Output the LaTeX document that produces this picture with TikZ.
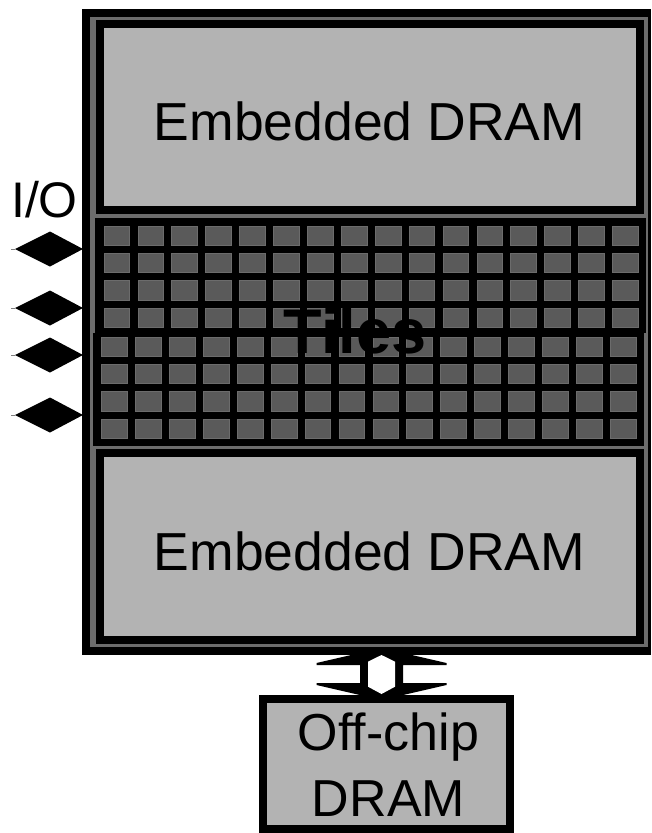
\documentclass[tikz,border=0pt]{standalone}
\usepackage{fontspec}
\setmainfont{Liberation Sans}
\usetikzlibrary{calc}
\definecolor{lgray}{RGB}{179,179,179}
\definecolor{band}{RGB}{108,108,108}
\definecolor{tilefill}{RGB}{90,90,90}
\definecolor{tileedge}{RGB}{108,108,108}
\begin{document}
\begin{tikzpicture}[x=1pt,y=-1pt,
  blk/.style={fill=black,draw=none,inner sep=0pt,outer sep=0pt},
  bandbox/.style={fill=band,draw=none,inner sep=0pt,outer sep=0pt},
  membox/.style={fill=lgray,draw=black,line width=8pt,inner sep=0pt,outer sep=0pt},
  tilesq/.style={fill=tilefill,draw=tileedge,line width=0.8pt},
  lbl/.style={font=\fontsize{52}{62}\selectfont,anchor=base,inner sep=0pt},
  iod/.style={fill=black,draw=none}]
\useasboundingbox (0,0) rectangle (651,833);

% bidirectional off-chip link (drawn first, partly hidden)
\coordinate (arrc) at (381.5,674);
\fill[black,shift={(arrc)}] (0,-26) -- (65,-11) -- (65,-9) -- (21.5,-9) -- (21.5,9) -- (65,9) -- (65,11)
  -- (0,26) -- (-65,11) -- (-65,9) -- (-21.5,9) -- (-21.5,-9) -- (-65,-9) -- (-65,-11) -- cycle;
\fill[white,shift={(arrc)}] (-13.5,-12.3) -- (0,-19) -- (13.5,-12.3) -- (13.5,12.7) -- (0,20) -- (-13.5,12.7) -- cycle;

% chip
\node[blk,minimum width=569pt,minimum height=646pt] (chip) at (366.5,332) {};
\node[bandbox,minimum width=558pt,minimum height=630pt] (band) at (369,332) {};
\node[membox,minimum width=540pt,minimum height=186pt] (dramtop) at (370,117) {};
\node[membox,minimum width=540pt,minimum height=187pt] (drambot) at (370,546.5) {};
\node[blk,minimum width=551pt,minimum height=115pt] (tilesup) at (370.5,275.5) {};
\node[blk,minimum width=551pt,minimum height=113pt] (tileslo) at (368.5,389.5) {};

\foreach \i in {0,...,15} {
  \foreach \j in {0,...,3} {
    \fill[tilesq] ({104+33.9*\i},{226+27.4*\j}) rectangle ++(25.7,19.3);
    \fill[tilesq] ({101.7+33.9*\i},{337+27.4*\j}) rectangle ++(25.7,19.3);
  }
}
\foreach \i in {0,...,15} {
  \foreach \j in {0,...,3} {
    \draw[tilesq,fill=none] ({104+33.9*\i},{226+27.4*\j}) rectangle ++(25.7,19.3);
    \draw[tilesq,fill=none] ({101.7+33.9*\i},{337+27.4*\j}) rectangle ++(25.7,19.3);
  }
}

\node[lbl,font=\fontsize{53.5}{64}\selectfont] (tdtext) at (369.5,140) {Embedded DRAM};
\node[lbl,font=\fontsize{53.5}{64}\selectfont] (bdtext) at (369.5,570) {Embedded DRAM};
\node[lbl,font=\fontsize{63}{72}\selectfont\bfseries] (tiles) at (355,353) {Tiles};

% off-chip DRAM
\node[membox,minimum width=247pt,minimum height=130pt] (offchip) at (386.5,764) {};
\node[lbl] (oc1) at (388.5,750) {Off-chip};
\node[lbl] (oc2) at (388.5,816.7) {DRAM};

% I/O
\node[lbl,font=\fontsize{50}{60}\selectfont] (io) at (44.5,217) {I/O};
\foreach \y [count=\k] in {249,308,355,415} {
  \coordinate (io\k) at (15,\y);
  \draw[gray,line width=1pt] (io\k) -- ++(-4,0);
  \fill[iod] (io\k) -- ($(io\k)+(35,-17.5)$) -- ($(io\k -| chip.west)+(1,0)$) -- ($(io\k)+(35,17.5)$) -- cycle;
}
\end{tikzpicture}
\end{document}
